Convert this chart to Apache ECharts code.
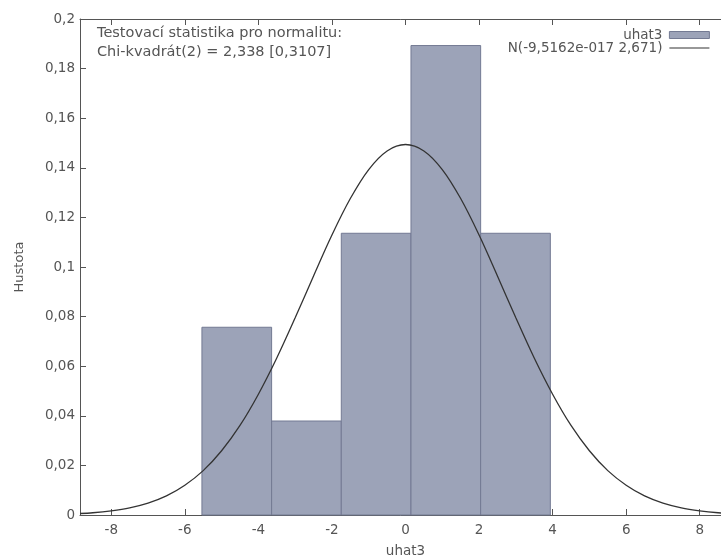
<!DOCTYPE html>
<html>
<head>
<meta charset="utf-8">
<script src="https://cdn.jsdelivr.net/npm/echarts@6/dist/echarts.min.js"></script>
<style>html,body{margin:0;padding:0;background:#fff;}#c{width:721px;height:558px;}</style>
</head>
<body>
<div id="c"></div>
<script>
// Histogram bins (left edge, right edge) and densities
const binStarts = [-5.535, -3.640, -1.746, 0.149, 2.043];
const binEnds   = [-3.640, -1.746, 0.149, 2.043, 3.938];
const binDensity = [0.0757, 0.0379, 0.1136, 0.1893, 0.1136];

// Normal density curve points
const curveX = [-8.85, -8.5, -8, -7.5, -7, -6.5, -6, -5.5, -5, -4.5, -4, -3.5, -3, -2.5, -2, -1.5, -1, -0.5, 0,
                0.5, 1, 1.5, 2, 2.5, 3, 3.5, 4, 4.5, 5, 5.5, 6, 6.5, 7, 7.5, 8, 8.5, 8.85];
const curveY = [0.0006, 0.0009, 0.0017, 0.0029, 0.0048, 0.0077, 0.0120, 0.0179, 0.0259, 0.0361, 0.0487, 0.0633, 0.0795, 0.0964, 0.1129, 0.1276, 0.1393, 0.1468, 0.1494,
                0.1468, 0.1393, 0.1276, 0.1129, 0.0964, 0.0795, 0.0633, 0.0487, 0.0361, 0.0259, 0.0179, 0.0120, 0.0077, 0.0048, 0.0029, 0.0017, 0.0009, 0.0006];

const xTicks = [-8, -6, -4, -2, 0, 2, 4, 6, 8];
const seriesNames = ['uhat3', 'N(-9,5162e-017 2,671)'];
const noteLines = ['Testovací statistika pro normalitu:', 'Chi-kvadrát(2) = 2,338 [0,3107]'];
const xName = 'uhat3';
const yName = 'Hustota';

const FONT = 'DejaVu Sans';
const FS = 13.5;
const TXT = '#555';
const AX = '#555';

const histData = binStarts.map((s, i) => [s, binEnds[i], binDensity[i]]);
const curveData = curveX.map((x, i) => [x, curveY[i]]);

const fmt = v => String(+v.toFixed(4)).replace('.', ',');

const chart = echarts.init(document.getElementById('c'));
chart.setOption({
  animation: false,
  backgroundColor: '#fff',
  textStyle: { fontFamily: FONT },
  grid: { left: 80, right: -10, top: 19, bottom: 43, containLabel: false, outerBoundsMode: 'none' },
  legend: {
    orient: 'vertical', right: 6, top: 23, align: 'right',
    itemWidth: 40, itemHeight: 7, itemGap: -1,
    textStyle: { fontFamily: FONT, fontSize: FS, color: TXT, padding: [0, 2, 0, 0] },
    data: [
      { name: seriesNames[0], icon: 'rect', itemStyle: { color: '#9ca3b8', borderColor: '#737a93', borderWidth: 1 } },
      { name: seriesNames[1], itemStyle: { opacity: 0 }, lineStyle: { color: '#333', width: 1.2 } }
    ]
  },
  graphic: [
    { type: 'text', left: 97, top: 26, style: { text: noteLines[0], font: '14.5px "DejaVu Sans"', fill: TXT } },
    { type: 'text', left: 97, top: 45, style: { text: noteLines[1], font: '14.5px "DejaVu Sans"', fill: TXT } }
  ],
  xAxis: [
    {
      type: 'value', min: -8.85, max: 8.85, position: 'bottom',
      name: xName, nameLocation: 'middle', nameGap: 29,
      nameTextStyle: { fontFamily: FONT, fontSize: FS, color: TXT },
      axisLine: { onZero: false, lineStyle: { color: AX, width: 1 } },
      axisTick: { inside: true, length: 6, customValues: xTicks, lineStyle: { color: AX } },
      axisLabel: { customValues: xTicks, margin: 8, fontFamily: FONT, fontSize: FS, color: TXT, formatter: v => String(v) },
      splitLine: { show: false }
    },
    {
      type: 'value', min: -8.85, max: 8.85, position: 'top',
      axisLine: { onZero: false, lineStyle: { color: AX, width: 1 } },
      axisTick: { inside: true, length: 6, customValues: xTicks, lineStyle: { color: AX } },
      axisLabel: { show: false },
      splitLine: { show: false }
    }
  ],
  yAxis: {
    type: 'value', min: 0, max: 0.2, interval: 0.02,
    name: yName, nameLocation: 'middle', nameGap: 54, nameRotate: 90,
    nameTextStyle: { fontFamily: FONT, fontSize: 13, color: TXT },
    axisLine: { show: true, onZero: false, lineStyle: { color: AX, width: 1 } },
    axisTick: { show: true, inside: true, length: 6, lineStyle: { color: AX } },
    axisLabel: { margin: 5, fontFamily: FONT, fontSize: FS, color: TXT, formatter: fmt },
    splitLine: { show: false }
  },
  series: [
    {
      name: seriesNames[0], type: 'custom', xAxisIndex: 0,
      data: histData,
      encode: { x: [0, 1], y: 2 },
      itemStyle: { color: '#9ca3b8' },
      renderItem: function (params, api) {
        const p0 = api.coord([api.value(0), api.value(2)]);
        const p1 = api.coord([api.value(1), 0]);
        return {
          type: 'rect',
          shape: { x: p0[0], y: p0[1], width: p1[0] - p0[0], height: p1[1] - p0[1] },
          style: { fill: '#9ca3b8', stroke: '#737a93', lineWidth: 1 }
        };
      },
      z: 2
    },
    {
      name: seriesNames[1], type: 'line', xAxisIndex: 0,
      data: curveData, smooth: 0.35, symbol: 'none', showSymbol: false,
      lineStyle: { color: '#333', width: 1.3 },
      itemStyle: { color: '#333' },
      z: 3
    }
  ]
});
</script>
</body>
</html>
